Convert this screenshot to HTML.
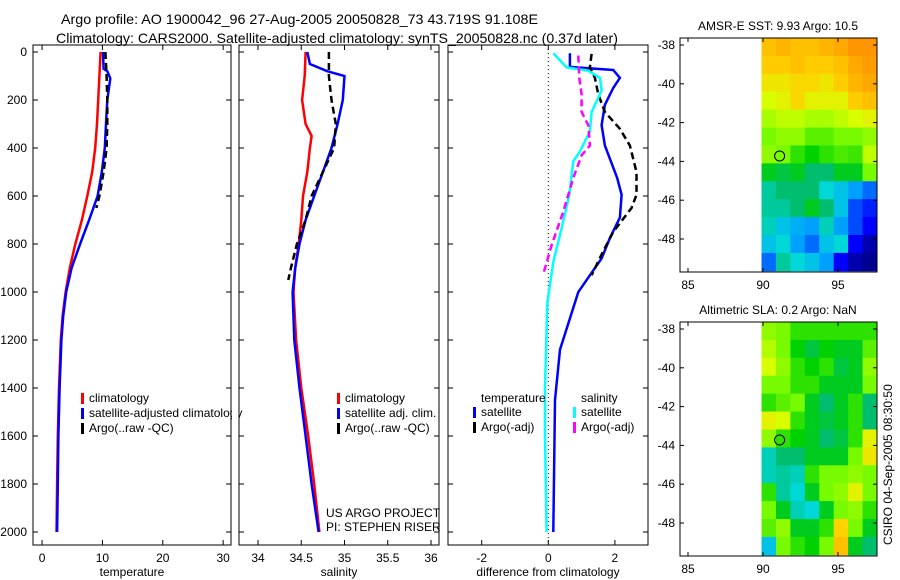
<!DOCTYPE html>
<html><head><meta charset="utf-8">
<style>
body{margin:0;background:#fff;}
svg{display:block;font-family:"Liberation Sans",sans-serif;}
text{font-size:12px;fill:#000;}
</style></head>
<body>
<svg id="s" width="900" height="580" viewBox="0 0 900 580">
<text x="61" y="24" textLength="477" lengthAdjust="spacingAndGlyphs" style="font-size:14px">Argo profile: AO 1900042_96 27-Aug-2005 20050828_73 43.719S 91.108E</text>
<text x="56" y="43" textLength="562" lengthAdjust="spacingAndGlyphs" style="font-size:14px">Climatology: CARS2000. Satellite-adjusted climatology: synTS_20050828.nc (0.37d later)</text>
</svg>
<script>
// ---------- data ----------
const tDepth=[0,50,100,200,300,400,500,600,700,800,900,1000,1100,1200,1400,1600,1800,2000];
const tClim=[9.7,9.6,9.5,9.3,9.1,8.8,8.3,7.5,6.6,5.5,4.6,3.9,3.4,3.1,2.8,2.6,2.5,2.4];
const tSatDepth=[0,70,80,110,200,300,400,500,600,700,800,900,1000,1100,1200,1400,1600,1800,2000];
const tSat=[10.1,10.2,10.8,11.3,10.8,10.6,10.4,9.9,9.2,7.8,6.3,4.9,4.0,3.5,3.2,2.9,2.7,2.6,2.5];
const tArgoDepth=[0,100,200,300,400,500,600,650];
const tArgo=[10.5,10.7,10.8,10.8,10.7,10.2,9.5,9.0];
const sDepth=[0,100,200,300,350,400,500,600,700,800,900,1000,1200,1400,1600,1800,2000];
const sClim=[34.55,34.54,34.51,34.55,34.62,34.6,34.57,34.52,34.5,34.47,34.43,34.41,34.44,34.5,34.58,34.65,34.71];
const sSatDepth=[0,50,80,100,200,300,400,500,600,700,800,900,1000,1200,1400,1600,1800,2000];
const sSat=[34.57,34.6,34.8,35.0,34.98,34.92,34.85,34.75,34.65,34.55,34.48,34.43,34.4,34.42,34.48,34.55,34.62,34.7];
const sArgoDepth=[0,100,200,300,400,500,600,700,800,900,950];
const sArgo=[34.82,34.82,34.85,34.9,34.88,34.75,34.62,34.55,34.45,34.38,34.35];
const dTSatDepth=[5,62,75,108,150,220,305,390,525,595,690,775,860,940,1000,1045,1240,1450,2000];
const dTSat=[0.65,0.65,1.95,2.15,1.95,1.7,1.6,1.7,2.07,2.2,2.15,1.85,1.6,1.2,0.9,0.8,0.35,0.2,0.15];
const dTArgoDepth=[8,64,108,177,250,320,390,500,595,650,750,830,930];
const dTArgo=[1.3,1.25,1.4,1.5,1.7,2.15,2.45,2.65,2.65,2.5,1.95,1.65,1.3];
const dSSatDepth=[5,64,78,108,160,250,330,415,455,595,735,875,1045,1400,1600,2000];
const dSSat=[0.15,0.55,1.2,1.55,1.6,1.3,1.25,0.95,0.75,0.63,0.4,0.15,-0.03,-0.1,-0.1,-0.05];
const dSArgoDepth=[15,108,177,250,305,390,430,525,665,805,925];
const dSArgo=[0.9,0.93,1.0,1.0,1.2,1.25,1.0,0.75,0.45,0.1,-0.15];
const depthTicks=[0,200,400,600,800,1000,1200,1400,1600,1800,2000];
const tTicks=[0,10,20,30];
const sTicks=[34,34.5,35,35.5,36];
const sTickLabels=["34","34.5","35","35.5","36"];
const dTicks=[-2,0,2];
const lonTicks=[85,90,95];
const latTicks=[-40,-42,-44,-46,-48];
const sstGrid=[
[.78,.8,.78,.78,.8,.82,.85,.85],[.76,.76,.78,.76,.76,.78,.82,.84],[.72,.72,.74,.74,.72,.76,.8,.82],
[.68,.7,.74,.7,.7,.7,.76,.78],[.64,.66,.66,.64,.64,.66,.68,.7],[.6,.62,.62,.58,.58,.6,.6,.62],
[.62,.6,.55,.52,.55,.57,.56,.66],[.5,.48,.5,.45,.45,.5,.5,.6],[.42,.45,.45,.45,.38,.35,.3,.25],
[.42,.42,.45,.5,.45,.35,.22,.18],[.4,.35,.32,.3,.4,.3,.22,.15],[.35,.38,.3,.25,.35,.38,.15,.05],
[.25,.42,.38,.35,.3,.15,.05,.02]];
const slaGrid=[
[.62,.6,.55,.55,.55,.55,.55,.55],[.65,.6,.52,.48,.52,.5,.5,.58],[.68,.62,.55,.52,.55,.48,.5,.62],
[.6,.6,.55,.55,.5,.5,.5,.6],[.55,.58,.6,.5,.45,.5,.55,.45],[.7,.68,.55,.5,.48,.5,.55,.45],
[.62,.55,.52,.5,.45,.48,.55,.7],[.4,.45,.45,.5,.5,.5,.6,.72],[.4,.42,.4,.55,.6,.6,.62,.6],
[.55,.42,.38,.5,.6,.62,.7,.6],[.6,.5,.4,.38,.5,.6,.62,.55],[.58,.62,.5,.5,.55,.75,.6,.5],
[.35,.6,.55,.52,.6,.78,.5,.45]];
const argoLon=91.108, argoLat=-43.719;

// ---------- drawing ----------
const S=document.getElementById('s');const NS='http://www.w3.org/2000/svg';
function mk(t,a,p){const e=document.createElementNS(NS,t);for(const k in a)e.setAttribute(k,a[k]);(p||S).appendChild(e);return e;}
function lin(d0,d1,r0,r1){return v=>r0+(v-d0)*(r1-r0)/(d1-d0);}
const Y=lin(0,2000,52,532);
const pTop=45,pBot=545;
function panel(name,x0,x1,X,ticks,labels,xlabel){
  const g=mk('g',{});
  
  
  const r=mk('rect',{x:x0,y:pTop,width:x1-x0,height:pBot-pTop,fill:'none',stroke:'#000'},g);
  
  
  ticks.forEach((t,i)=>{const x=X(t);mk('line',{x1:x,x2:x,y1:pBot,y2:pBot-5,stroke:'#000'},g);mk('line',{x1:x,x2:x,y1:pTop,y2:pTop+5,stroke:'#000'},g);
    const tx=mk('text',{x:x,y:pBot+17,'text-anchor':'middle'},g);tx.textContent=labels[i];
    
    });
  depthTicks.forEach(d=>{const y=Y(d);mk('line',{x1:x0,x2:x0+5,y1:y,y2:y,stroke:'#000'},g);mk('line',{x1:x1,x2:x1-5,y1:y,y2:y,stroke:'#000'},g);});
  const xl=mk('text',{x:(x0+x1)/2,y:pBot+31,'text-anchor':'middle'},g);xl.textContent=xlabel;
  
  
  return g;
}
function line(g,X,vals,deps,color,dash,name){
  const pts=vals.map((v,i)=>X(v).toFixed(1)+','+Y(deps[i]).toFixed(1)).join(' ');
  const p=mk('polyline',{points:pts,fill:'none',stroke:color,'stroke-width':2.5},g);
  if(dash)p.setAttribute('stroke-dasharray',dash);
  
  
}
function legend(g,x,y,items){items.forEach((it,i)=>{const yy=y+i*15;
  mk('rect',{x:x,y:yy-9,width:3,height:11,fill:it[0]},g);
  const t=mk('text',{x:x+8,y:yy},g);t.textContent=it[1];
  
  });}

depthTicks.forEach(d=>{const t=mk('text',{x:27,y:Y(d)+4,'text-anchor':'end'});t.textContent=d;
  
  });

const XT=lin(-1.5,31.3,33,231);
const g1=panel('temperature-panel',33,231,XT,tTicks,tTicks.map(String),'temperature');
line(g1,XT,tClim,tDepth,'#f00',null,'temp-climatology-line');
line(g1,XT,tSat,tSatDepth,'#00f',null,'temp-satellite-line');
line(g1,XT,tArgo,tArgoDepth,'#000','7,4','temp-argo-line');
legend(g1,81,402,[['#f00','climatology'],['#00f','satellite-adjusted climatology'],['#000','Argo(..raw -QC)']]);

const XS=lin(34,36,258,431);
mk('rect',{x:232,y:385,width:7,height:40,fill:'#fff'});
const g2=panel('salinity-panel',239,439,XS,sTicks,sTickLabels,'salinity');
line(g2,XS,sClim,sDepth,'#f00',null,'sal-climatology-line');
line(g2,XS,sSat,sSatDepth,'#00f',null,'sal-satellite-line');
line(g2,XS,sArgo,sArgoDepth,'#000','7,4','sal-argo-line');
legend(g2,337,402,[['#f00','climatology'],['#00f','satellite adj. clim.'],['#000','Argo(..raw -QC)']]);
const c1=mk('text',{x:326,y:517},g2);c1.textContent='US ARGO PROJECT';
const c2=mk('text',{x:326,y:531},g2);c2.textContent='PI: STEPHEN RISER';

const XD=lin(-2,2,481.7,614.9);
const g3=panel('difference-panel',448,648,XD,dTicks,dTicks.map(String),'difference from climatology');
mk('line',{x1:XD(0),x2:XD(0),y1:pTop,y2:pBot,stroke:'#000','stroke-dasharray':'1,3'},g3);
line(g3,XD,dTSat,dTSatDepth,'#00f',null,'diff-temp-satellite-line');
line(g3,XD,dTArgo,dTArgoDepth,'#000','7,4','diff-temp-argo-line');
line(g3,XD,dSSat,dSSatDepth,'#0ff',null,'diff-sal-satellite-line');
line(g3,XD,dSArgo,dSArgoDepth,'#f0f','7,4','diff-sal-argo-line');
const lt=mk('text',{x:481,y:402},g3);lt.textContent='temperature';
const ls=mk('text',{x:581,y:402},g3);ls.textContent='salinity';
legend(g3,473,416,[['#00f','satellite'],['#000','Argo(-adj)']]);
legend(g3,573,416,[['#0ff','satellite'],['#f0f','Argo(-adj)']]);

const CM=[[0,0,0,130],[0.15,0,0,255],[0.3,0,160,255],[0.38,0,215,215],[0.45,0,190,110],[0.52,0,210,0],[0.6,120,250,0],[0.68,215,255,0],[0.75,255,210,0],[0.85,255,150,0],[1,200,60,0]];
function cmap(v){for(let i=1;i<CM.length;i++){if(v<=CM[i][0]){const a=CM[i-1],b=CM[i],f=(v-a[0])/(b[0]-a[0]);
  return 'rgb('+[1,2,3].map(k=>Math.round(a[k]+(b[k]-a[k])*f)).join(',')+')';}}return 'rgb(200,60,0)';}
function map(name,y0,y1,grid,title){
  const X=lin(85,95,688,838);const Yl=lin(-38,-48,y0+7,y0+201);
  const g=mk('g',{});
  
  
  const rows=grid.length,cols=grid[0].length;const lon0=89.9,lon1=97.6,lat0=-37.64,lat1=-49.64;
  const cw=(X(lon1)-X(lon0))/cols,ch=(Yl(lat1)-Yl(lat0))/rows;
  grid.forEach((row,i)=>row.forEach((v,j)=>{const c=mk('rect',{x:X(lon0)+j*cw,y:Yl(lat0)+i*ch,width:cw+0.5,height:ch+0.5,fill:cmap(v)},g);
    
    }));
  mk('rect',{x:680,y:y0,width:197,height:y1-y0,fill:'none',stroke:'#000'},g);
  lonTicks.forEach(l=>{const x=X(l);mk('line',{x1:x,x2:x,y1:y1,y2:y1-4,stroke:'#000'},g);mk('line',{x1:x,x2:x,y1:y0,y2:y0+4,stroke:'#000'},g);
    const t=mk('text',{x:x,y:y1+17,'text-anchor':'middle'},g);t.textContent=l;});
  [-38].concat(latTicks).forEach(l=>{const y=Yl(l);mk('line',{x1:680,x2:684,y1:y,y2:y,stroke:'#000'},g);mk('line',{x1:877,x2:873,y1:y,y2:y,stroke:'#000'},g);
    const t=mk('text',{x:675,y:y+4,'text-anchor':'end'},g);t.textContent=l;});
  mk('circle',{cx:X(argoLon),cy:Yl(argoLat),r:5,fill:'none',stroke:'#000'},g);
  const tt=mk('text',{x:778,y:y0-8,'text-anchor':'middle'},g);tt.textContent=title;
  
  
}
map('sst-map',38,272,sstGrid,'AMSR-E SST: 9.93 Argo: 10.5');
map('sla-map',322,556,slaGrid,'Altimetric SLA: 0.2 Argo: NaN');
const st=mk('text',{x:0,y:0,transform:'translate(892,545) rotate(-90)'});st.textContent='CSIRO 04-Sep-2005 08:30:50';


</script>
</body></html>
